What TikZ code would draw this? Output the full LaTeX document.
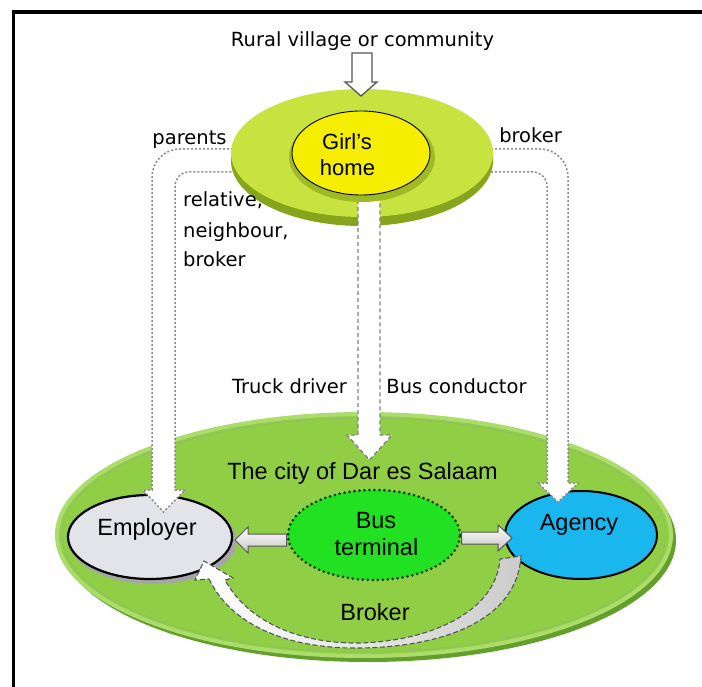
\documentclass[tikz,border=0pt]{standalone}
\usepackage{fontspec}
\setmainfont{Liberation Sans}
\newfontfamily\djv{DejaVu Sans}
\usetikzlibrary{shapes.geometric}
\definecolor{topgreen}{HTML}{C8E340}
\definecolor{topshadow}{HTML}{86A41C}
\definecolor{halo}{HTML}{9EBA26}
\definecolor{girlyellow}{HTML}{F6EE00}
\definecolor{citygreen}{HTML}{90CF45}
\definecolor{cityrim}{HTML}{ACDD6C}
\definecolor{cityshadow}{HTML}{639F2C}
\definecolor{empfill}{HTML}{E3E3EA}
\definecolor{agencyblue}{HTML}{1AB6EE}
\definecolor{termgreen}{HTML}{22E022}
\definecolor{termdots}{HTML}{0B3A0B}
\definecolor{dotgray}{HTML}{8C8C8C}
\definecolor{edgegray}{HTML}{555555}
\begin{document}
\begin{tikzpicture}[x=1pt,y=-1pt,
  lab/.style={font=\djv\fontsize{19.5}{24}\selectfont, inner sep=0pt, anchor=base},
  big/.style={font=\fontsize{23.5}{28}\selectfont, inner sep=0pt, anchor=base},
  oval/.style={ellipse, inner sep=0pt},
  dotline/.style={draw=dotgray, line width=1.5pt, dash pattern=on 2pt off 2pt, fill=white},
  dashedge/.style={draw=gray, line width=1.4pt, dash pattern=on 4pt off 3pt, fill=white},
  hollow/.style={draw=edgegray, line width=1pt, top color=white, bottom color=gray!45},
]
\useasboundingbox (0,0) rectangle (702,687);
\clip (0,0) rectangle (702,687);
\fill[white] (0,0) rectangle (702,687);
\draw[line width=3.5pt] (13.5,700) -- (13.5,12) -- (712,12);

% ---------- city ----------
\fill[cityshadow] (368,540) ellipse [x radius=308, y radius=122];
\node[oval, fill=citygreen, draw=cityrim, line width=4pt, minimum width=614, minimum height=242] (city) at (364,535) {};
\draw[cityshadow!70, line width=0.8pt] (364,535) ellipse [x radius=302, y radius=117];

% employer
\fill[gray!70] (153,541) ellipse [x radius=84, y radius=43];
\node[oval, fill=empfill, draw=black, line width=2.2pt, minimum width=164, minimum height=84] (emp) at (150,537) {};
% agency
\node[oval, fill=agencyblue, draw=black, line width=2pt, minimum width=152, minimum height=88] (agency) at (581,535) {};
% bus terminal
\node[oval, fill=termgreen, draw=termdots, line width=3pt, line cap=round, dash pattern=on 0pt off 5pt, minimum width=172, minimum height=90] (term) at (374,535) {};

% horizontal hollow arrows
\path[hollow] (term.west |- 0,534) -- (248,534) -- (248,527) -- (235,540) -- (248,553) -- (248,546) -- (term.west |- 0,546) -- cycle;
\path[hollow] (term.east |- 0,532) -- (498,532) -- (498,525) -- (512,538) -- (498,551) -- (498,544) -- (term.east |- 0,544) -- cycle;

% broker crescent
\path[draw=edgegray, line width=1.1pt, dash pattern=on 5pt off 2.5pt, left color=white, right color=gray!40]
  (209,579) .. controls (235,632) and (300,649) .. (360,648)
  .. controls (440,647) and (517,622) .. (521,556)
  -- (500,559)
  .. controls (496,612) and (430,641) .. (360,643)
  .. controls (300,644) and (248,622) .. (225,580)
  -- (233,578) -- (204,561) -- (195,580) -- cycle;

% texts in city
\node[big] (citytxt) at (362.5,479) {The city of Dar es Salaam};
\node[big] (emptxt) at (147,535) {Employer};
\node[big] (bus) at (376,528) {Bus};
\node[big] (terminal) at (376.5,555) {terminal};
\node[big] (agtxt) at (579,530) {Agency};
\node[big] (brokertxt) at (375,620) {Broker};

% ---------- bent dotted arrows ----------
\path[dotline] (233,149) [rounded corners=28pt] -| (152,300) [sharp corners] -- (152,490) -- (143,490) -- (163.5,512) -- (185,490) -- (175,490) [rounded corners=14pt] |- (233,172);
\path[dotline] (491,149) [rounded corners=28pt] -| (568,300) [sharp corners] -- (568,483) -- (578,483) -- (558,502) -- (538,483) -- (547,483) [rounded corners=14pt] |- (491,172);

% ---------- top: girl's home ----------
\fill[topshadow] (362,161) ellipse [x radius=131, y radius=65];
\node[oval, fill=topgreen, minimum width=262, minimum height=128] (ring) at (362,153) {};

% central down arrow
\path[dashedge] (358,186) -- (358,435) -- (347,435) -- (369.5,460) -- (392,435) -- (380,435) -- (380,186);
\fill[white] (359,186) rectangle (379,436);

\fill[halo] (362,157) ellipse [x radius=73, y radius=45];
\node[oval, fill=girlyellow, draw=black, line width=0.9pt, minimum width=138, minimum height=84] (home) at (361,153) {};
\node[big, font=\fontsize{22}{26}\selectfont] (girl) at (347,150) {Girl’s};
\node[big, font=\fontsize{22}{26}\selectfont] (hometxt) at (347.5,176) {home};

% rural arrow
\node[lab] (rural) at (362.5,47) {Rural village or community};
\path[draw=edgegray, line width=1.3pt, fill=white] (352,53) -- (352,82) -- (345,82) -- (361,96) -- (377,82) -- (372,82) -- (372,53) -- cycle;

% labels
\node[lab] (parents) at (189.5,145) {parents};
\node[lab] (brokerR) at (530.5,143) {broker};
\node[lab, anchor=base west] (rel) at (183,207) {relative,};
\node[lab, anchor=base west] (neigh) at (183,238) {neighbour,};
\node[lab, anchor=base west] (brokerL) at (183,267) {broker};
\node[lab] (truck) at (289.5,393) {Truck driver};
\node[lab] (busc) at (456.5,393) {Bus conductor};
\end{tikzpicture}
\end{document}
